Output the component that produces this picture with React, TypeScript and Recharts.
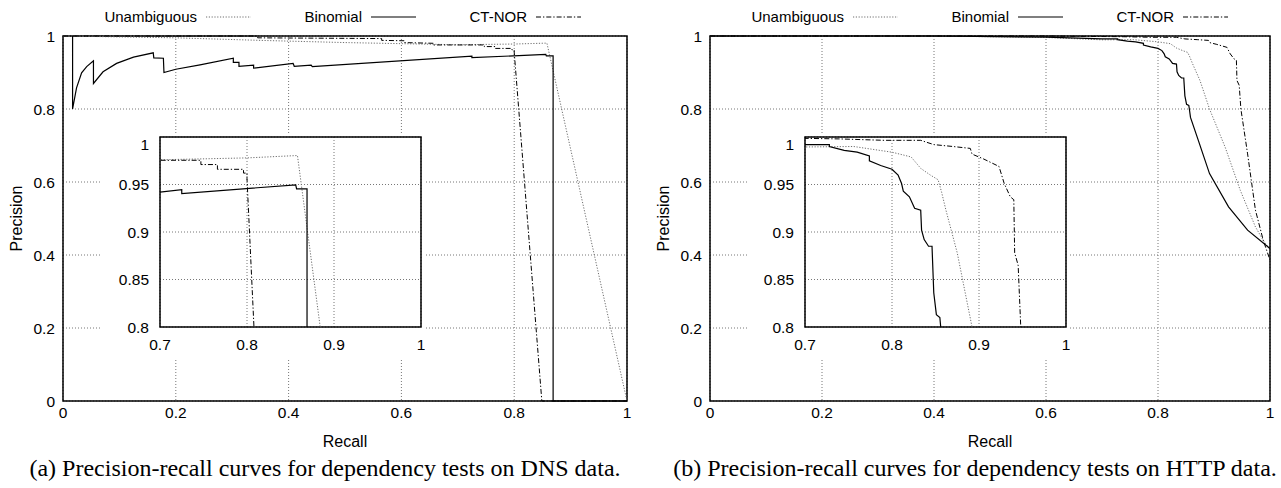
import React from 'react';
import { LineChart, Line, XAxis, YAxis, CartesianGrid, ReferenceArea, Legend, Label } from 'recharts';

type Pt = { x: number; y: number };

// ---------- data ----------
const mainTicks = [0, 0.2, 0.4, 0.6, 0.8, 1];
const insetXTicks = [0.7, 0.8, 0.9, 1];
const insetYTicks = [0.8, 0.85, 0.9, 0.95, 1];
const seriesNames = ['Unambiguous', 'Binomial', 'CT-NOR'];
const axisTitles = ['Recall', 'Precision'];
const captions = [
  '(a) Precision-recall curves for dependency tests on DNS data.',
  '(b) Precision-recall curves for dependency tests on HTTP data.',
];

const dnsUnambiguous: Pt[] = [
  { x: 0, y: 1 }, { x: 0.2, y: 0.995 }, { x: 0.35, y: 0.988 }, { x: 0.5, y: 0.982 },
  { x: 0.7, y: 0.976 }, { x: 0.8, y: 0.978 }, { x: 0.858, y: 0.9805 }, { x: 1, y: 0 },
];
const dnsBinomial: Pt[] = [
  { x: 0.017, y: 1 }, { x: 0.017, y: 0.8 }, { x: 0.024, y: 0.858 }, { x: 0.033, y: 0.899 },
  { x: 0.042, y: 0.916 }, { x: 0.054, y: 0.932 }, { x: 0.054, y: 0.87 }, { x: 0.071, y: 0.902 },
  { x: 0.095, y: 0.925 }, { x: 0.125, y: 0.942 }, { x: 0.16, y: 0.954 }, { x: 0.161, y: 0.94 },
  { x: 0.178, y: 0.939 }, { x: 0.179, y: 0.9 }, { x: 0.2, y: 0.909 }, { x: 0.243, y: 0.921 },
  { x: 0.302, y: 0.939 }, { x: 0.302, y: 0.928 }, { x: 0.312, y: 0.928 }, { x: 0.312, y: 0.917 },
  { x: 0.338, y: 0.92 }, { x: 0.338, y: 0.912 }, { x: 0.408, y: 0.925 }, { x: 0.41, y: 0.917 },
  { x: 0.44, y: 0.92 }, { x: 0.442, y: 0.916 }, { x: 0.725, y: 0.9445 }, { x: 0.725, y: 0.9405 },
  { x: 0.856, y: 0.9497 }, { x: 0.857, y: 0.9455 }, { x: 0.869, y: 0.9455 }, { x: 0.869, y: 0 },
  { x: 1, y: 0 },
];
const dnsCtnor: Pt[] = [
  { x: 0, y: 1 }, { x: 0.345, y: 1 }, { x: 0.345, y: 0.995 }, { x: 0.565, y: 0.993 },
  { x: 0.565, y: 0.988 }, { x: 0.605, y: 0.987 }, { x: 0.605, y: 0.982 }, { x: 0.657, y: 0.98 },
  { x: 0.657, y: 0.9755 }, { x: 0.747, y: 0.9755 }, { x: 0.747, y: 0.971 }, { x: 0.766, y: 0.971 },
  { x: 0.766, y: 0.966 }, { x: 0.796, y: 0.966 }, { x: 0.796, y: 0.962 }, { x: 0.8, y: 0.962 },
  { x: 0.8, y: 0.956 }, { x: 0.849, y: 0 }, { x: 1, y: 0 },
];

const httpUnambiguous: Pt[] = [
  { x: 0, y: 1 }, { x: 0.4, y: 1 }, { x: 0.6, y: 0.996 }, { x: 0.7, y: 0.9895 },
  { x: 0.756, y: 0.99 }, { x: 0.8, y: 0.984 }, { x: 0.822, y: 0.979 }, { x: 0.833, y: 0.967 },
  { x: 0.844, y: 0.96 }, { x: 0.853, y: 0.955 }, { x: 0.857, y: 0.942 }, { x: 0.862, y: 0.923 },
  { x: 0.875, y: 0.878 }, { x: 0.892, y: 0.8 }, { x: 0.92, y: 0.695 }, { x: 0.947, y: 0.577 },
  { x: 0.974, y: 0.477 }, { x: 0.988, y: 0.44 }, { x: 1, y: 0.414 },
];
const httpBinomial: Pt[] = [
  { x: 0, y: 1 }, { x: 0.4, y: 1 }, { x: 0.6, y: 0.997 }, { x: 0.7, y: 0.992 },
  { x: 0.728, y: 0.992 }, { x: 0.728, y: 0.99 }, { x: 0.745, y: 0.986 }, { x: 0.76, y: 0.984 },
  { x: 0.774, y: 0.98 }, { x: 0.774, y: 0.975 }, { x: 0.787, y: 0.97 }, { x: 0.8, y: 0.966 },
  { x: 0.807, y: 0.96 }, { x: 0.811, y: 0.951 }, { x: 0.813, y: 0.943 }, { x: 0.82, y: 0.937 },
  { x: 0.826, y: 0.925 }, { x: 0.833, y: 0.923 }, { x: 0.834, y: 0.902 }, { x: 0.837, y: 0.892 },
  { x: 0.842, y: 0.885 }, { x: 0.846, y: 0.885 }, { x: 0.848, y: 0.836 }, { x: 0.851, y: 0.813 },
  { x: 0.855, y: 0.81 }, { x: 0.856, y: 0.8 }, { x: 0.858, y: 0.777 }, { x: 0.872, y: 0.714 },
  { x: 0.892, y: 0.623 }, { x: 0.926, y: 0.532 }, { x: 0.96, y: 0.468 }, { x: 1, y: 0.418 },
];
const httpCtnor: Pt[] = [
  { x: 0, y: 1 }, { x: 0.6, y: 1 }, { x: 0.739, y: 0.998 }, { x: 0.791, y: 0.9965 },
  { x: 0.833, y: 0.9965 }, { x: 0.848, y: 0.992 }, { x: 0.87, y: 0.99 }, { x: 0.89, y: 0.988 },
  { x: 0.892, y: 0.982 }, { x: 0.905, y: 0.977 }, { x: 0.923, y: 0.969 }, { x: 0.929, y: 0.951 },
  { x: 0.936, y: 0.937 }, { x: 0.94, y: 0.934 }, { x: 0.941, y: 0.878 }, { x: 0.945, y: 0.865 },
  { x: 0.948, y: 0.8 }, { x: 0.96, y: 0.677 }, { x: 0.974, y: 0.523 }, { x: 0.988, y: 0.44 },
  { x: 1, y: 0.386 },
];

// ---------- styles / layout ----------
const sansFont = '"Liberation Sans", Arial, Helvetica, sans-serif';
const tickStyle = { fontSize: 15.5, fill: '#000', fontFamily: sansFont };
const lineStyles = [
  { stroke: '#6e6e6e', strokeWidth: 1, strokeDasharray: '1.2 1.6' },
  { stroke: '#000', strokeWidth: 1.2 },
  { stroke: '#000', strokeWidth: 1, strokeDasharray: '5 2 1.3 2' },
];
const gridStyle = { stroke: '#777', strokeDasharray: '1 2', strokeWidth: 1 };
const legendTextRight = [134, 299, 464];

const PLOT_TOP = 36;
const CHART_H = 460;
const X_AXIS_H = 50;
const Y_AXIS_W = 48;
const INSET_PAD_LEFT = 58;
const INSET_W = 261 + INSET_PAD_LEFT + 4;
const INSET_H = 225;

function renderLines(series: Pt[][]) {
  return series.map((d, i) => (
    <Line
      key={seriesNames[i]}
      name={seriesNames[i]}
      data={d}
      dataKey="y"
      type="linear"
      dot={false}
      activeDot={false}
      isAnimationActive={false}
      {...lineStyles[i]}
    />
  ));
}

const LegendContent = () => (
  <svg width={560} height={26} style={{ display: 'block' }}>
    {seriesNames.map((n, i) => {
      const xr = legendTextRight[i];
      return (
        <g key={n}>
          <text x={xr} y={18} textAnchor="end" style={{ fontSize: 15, fontFamily: sansFont, fill: '#000' }}>
            {n}
          </text>
          <line x1={xr + 9} x2={xr + 54} y1={13} y2={13} {...lineStyles[i]} />
        </g>
      );
    })}
  </svg>
);

type PanelProps = {
  left: number;
  width: number;
  plotLeft: number;
  plotRight: number;
  insetLeft: number;
  series: Pt[][];
  caption: string;
  captionCenter: number;
};

function Panel({ left, width, plotLeft, plotRight, insetLeft, series, caption, captionCenter }: PanelProps) {
  const marginLeft = plotLeft - left - Y_AXIS_W;
  const marginRight = left + width - plotRight;
  const marginBottom = CHART_H - 401 - X_AXIS_H;
  return (
    <>
      <div style={{ position: 'absolute', left, top: 0, width, height: CHART_H }}>
        <LineChart
          width={width}
          height={CHART_H}
          margin={{ top: PLOT_TOP, right: marginRight, left: marginLeft, bottom: marginBottom }}
        >
          <CartesianGrid {...gridStyle} />
          <XAxis
            type="number"
            dataKey="x"
            domain={[0, 1]}
            ticks={mainTicks}
            tick={tickStyle}
            tickLine={false}
            axisLine={false}
            tickSize={0}
            tickMargin={6}
            height={X_AXIS_H}
          >
            <Label value={axisTitles[0]} position="insideBottom" offset={4} style={{ fontSize: 16, fontFamily: sansFont, fill: '#000' }} />
          </XAxis>
          <YAxis
            type="number"
            domain={[0, 1]}
            ticks={mainTicks}
            tick={tickStyle}
            tickLine={false}
            axisLine={false}
            tickSize={0}
            tickMargin={8}
            width={Y_AXIS_W}
          >
            <Label
              value={axisTitles[1]}
              angle={-90}
              position="insideLeft"
              offset={1}
              style={{ fontSize: 16, fontFamily: sansFont, fill: '#000', textAnchor: 'middle' }}
            />
          </YAxis>
          {renderLines(series)}
          <ReferenceArea x1={0} x2={1} y1={0} y2={1} fill="none" stroke="#000" strokeWidth={1.5} ifOverflow="visible" />
          <Legend
            content={LegendContent}
            layout="horizontal"
            verticalAlign="middle"
            align="center"
            wrapperStyle={{ position: 'absolute', top: 4, left: plotLeft - left, width: 560, height: 26 }}
          />
        </LineChart>
      </div>
      <div
        style={{
          position: 'absolute',
          left: insetLeft - INSET_PAD_LEFT,
          top: 135,
          width: INSET_W,
          height: INSET_H,
          background: '#fff',
        }}
      >
        <LineChart width={INSET_W} height={INSET_H} margin={{ top: 2, right: 4, left: INSET_PAD_LEFT - 50, bottom: 0 }}>
          <CartesianGrid {...gridStyle} />
          <XAxis
            type="number"
            dataKey="x"
            domain={[0.7, 1]}
            ticks={insetXTicks}
            allowDataOverflow
            tick={tickStyle}
            tickLine={false}
            axisLine={false}
            tickSize={0}
            tickMargin={12}
            height={33}
          />
          <YAxis
            type="number"
            domain={[0.8, 1]}
            ticks={insetYTicks}
            allowDataOverflow
            tick={tickStyle}
            tickLine={false}
            axisLine={false}
            tickSize={0}
            tickMargin={11}
            width={50}
          />
          {renderLines(series)}
          <ReferenceArea x1={0.7} x2={1} y1={0.8} y2={1} fill="none" stroke="#000" strokeWidth={1.5} ifOverflow="visible" />
        </LineChart>
      </div>
      <div
        style={{
          position: 'absolute',
          left: captionCenter - 340,
          width: 680,
          top: 455,
          height: 26,
          lineHeight: '26px',
          textAlign: 'center',
          whiteSpace: 'nowrap',
          fontFamily: '"Liberation Serif", "Times New Roman", serif',
          fontSize: 24,
          color: '#000',
        }}
      >
        {caption}
      </div>
    </>
  );
}

export default function App() {
  return (
    <div
      style={{
        position: 'absolute',
        left: 0,
        top: 0,
        width: 1281,
        height: 488,
        background: '#fff',
        overflow: 'hidden',
      }}
    >
      <Panel
        left={0}
        width={640}
        plotLeft={63}
        plotRight={627}
        insetLeft={160}
        series={[dnsUnambiguous, dnsBinomial, dnsCtnor]}
        caption={captions[0]}
        captionCenter={325}
      />
      <Panel
        left={640}
        width={641}
        plotLeft={710}
        plotRight={1270}
        insetLeft={805}
        series={[httpUnambiguous, httpBinomial, httpCtnor]}
        caption={captions[1]}
        captionCenter={975}
      />
    </div>
  );
}
